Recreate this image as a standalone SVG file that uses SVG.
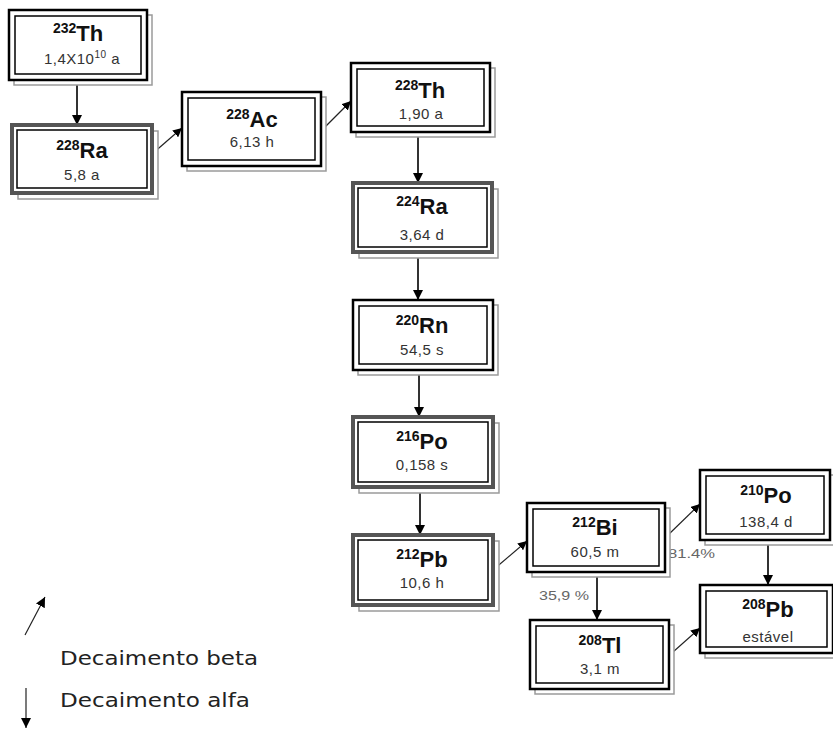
<svg xmlns="http://www.w3.org/2000/svg" width="833" height="731" viewBox="0 0 833 731">
<style>
  .shadow{fill:#fff;stroke:#9a9a9a;stroke-width:1.5}
  .outerA{fill:#fff;stroke:#000;stroke-width:2.5}
  .outerB{fill:#fff;stroke:#555;stroke-width:4}
  .inner{fill:none;stroke:#000;stroke-width:1.5}
  .sym{font-family:"Liberation Sans",Arial,sans-serif;font-weight:bold;fill:#111;text-anchor:middle}
  .sym .sup{font-size:14px}
  .sym .el{font-size:22px}
  .hl{font-family:"Liberation Sans",Arial,sans-serif;font-size:15px;fill:#333;text-anchor:middle;letter-spacing:0.5px}
  .pct{font-family:"Liberation Sans",Arial,sans-serif;font-size:13px;fill:#666}
  .leg{font-family:"DejaVu Sans","Comic Sans MS",sans-serif;font-size:20px;fill:#222}
  .a{stroke:#333;stroke-width:2;fill:none}
  .b{stroke:#222;stroke-width:1.2;fill:none}
</style>
<defs>
  <marker id="ah" viewBox="0 0 10 10" refX="10" refY="5" markerWidth="10" markerHeight="10" markerUnits="userSpaceOnUse" orient="auto">
    <path d="M0,0 L10,5 L0,10 z" fill="#000"/>
  </marker>
  <marker id="ahs" viewBox="0 0 10 10" refX="10" refY="5" markerWidth="9" markerHeight="9" markerUnits="userSpaceOnUse" orient="auto">
    <path d="M0,0 L10,5 L0,10 z" fill="#000"/>
  </marker>
</defs>

<g id="connectors">
  <line class="a" x1="77" y1="82" x2="77" y2="125" marker-end="url(#ah)"/>
  <line class="b" x1="152" y1="154" x2="182" y2="128" marker-end="url(#ahs)"/>
  <line class="b" x1="321" y1="131" x2="351" y2="101" marker-end="url(#ahs)"/>
  <line class="a" x1="418" y1="134" x2="418" y2="183" marker-end="url(#ah)"/>
  <line class="a" x1="418" y1="254" x2="418" y2="300" marker-end="url(#ah)"/>
  <line class="a" x1="419" y1="372" x2="419" y2="417" marker-end="url(#ah)"/>
  <line class="a" x1="420" y1="489" x2="420" y2="535" marker-end="url(#ah)"/>
  <line class="b" x1="493" y1="570" x2="527" y2="541" marker-end="url(#ahs)"/>
  <line class="b" x1="667" y1="536" x2="700" y2="504" marker-end="url(#ahs)"/>
  <line class="a" x1="597" y1="574" x2="597" y2="620" marker-end="url(#ah)"/>
  <line class="a" x1="768" y1="542" x2="768" y2="585" marker-end="url(#ah)"/>
  <line class="b" x1="673" y1="652" x2="700" y2="628" marker-end="url(#ahs)"/>
  <text class="pct" x="668" y="558" textLength="47" lengthAdjust="spacingAndGlyphs">81.4%</text>
  <text class="pct" x="539" y="600" textLength="50" lengthAdjust="spacingAndGlyphs">35,9 %</text>
</g>

<g id="th232">
  <rect class="shadow" x="14" y="15" width="138" height="70"/>
  <rect class="outerA" x="9" y="10" width="138" height="70"/>
  <rect class="inner" x="15" y="16" width="126" height="58"/>
  <text class="sym" x="78" y="41"><tspan class="sup" dy="-8">232</tspan><tspan class="el" dy="8">Th</tspan></text>
  <text class="hl" x="82" y="64">1,4X10<tspan font-size="10" dy="-6">10</tspan><tspan dy="6"> a</tspan></text>
</g>

<g id="ra228">
  <rect class="shadow" x="18" y="131" width="140" height="68"/>
  <rect class="outerB" x="12" y="125" width="140" height="68"/>
  <rect class="inner" x="17" y="130" width="130" height="58"/>
  <text class="sym" x="82" y="158"><tspan class="sup" dy="-8">228</tspan><tspan class="el" dy="8">Ra</tspan></text>
  <text class="hl" x="82" y="180">5,8 a</text>
</g>

<g id="ac228">
  <rect class="shadow" x="187" y="97" width="139" height="74"/>
  <rect class="outerA" x="182" y="92" width="139" height="74"/>
  <rect class="inner" x="188" y="98" width="127" height="62"/>
  <text class="sym" x="252" y="127"><tspan class="sup" dy="-8">228</tspan><tspan class="el" dy="8">Ac</tspan></text>
  <text class="hl" x="252" y="147">6,13 h</text>
</g>

<g id="th228">
  <rect class="shadow" x="356" y="68" width="139" height="69"/>
  <rect class="outerA" x="351" y="63" width="139" height="69"/>
  <rect class="inner" x="357" y="69" width="127" height="57"/>
  <text class="sym" x="420" y="98"><tspan class="sup" dy="-8">228</tspan><tspan class="el" dy="8">Th</tspan></text>
  <text class="hl" x="421" y="119">1,90 a</text>
</g>

<g id="ra224">
  <rect class="shadow" x="359" y="189" width="139" height="69"/>
  <rect class="outerB" x="353" y="183" width="139" height="69"/>
  <rect class="inner" x="358" y="188" width="129" height="59"/>
  <text class="sym" x="422" y="214"><tspan class="sup" dy="-8">224</tspan><tspan class="el" dy="8">Ra</tspan></text>
  <text class="hl" x="422" y="240">3,64 d</text>
</g>

<g id="rn220">
  <rect class="shadow" x="358" y="305" width="140" height="70"/>
  <rect class="outerA" x="353" y="300" width="140" height="70"/>
  <rect class="inner" x="359" y="306" width="128" height="58"/>
  <text class="sym" x="422" y="333"><tspan class="sup" dy="-8">220</tspan><tspan class="el" dy="8">Rn</tspan></text>
  <text class="hl" x="422" y="355">54,5 s</text>
</g>

<g id="po216">
  <rect class="shadow" x="359" y="423" width="140" height="70"/>
  <rect class="outerB" x="353" y="417" width="140" height="70"/>
  <rect class="inner" x="358" y="422" width="130" height="60"/>
  <text class="sym" x="422" y="449"><tspan class="sup" dy="-8">216</tspan><tspan class="el" dy="8">Po</tspan></text>
  <text class="hl" x="422" y="470">0,158 s</text>
</g>

<g id="pb212">
  <rect class="shadow" x="359" y="541" width="140" height="70"/>
  <rect class="outerB" x="353" y="535" width="140" height="70"/>
  <rect class="inner" x="358" y="540" width="130" height="60"/>
  <text class="sym" x="422" y="567"><tspan class="sup" dy="-8">212</tspan><tspan class="el" dy="8">Pb</tspan></text>
  <text class="hl" x="422" y="588">10,6 h</text>
</g>

<g id="bi212">
  <rect class="shadow" x="532" y="508" width="138" height="69"/>
  <rect class="outerA" x="527" y="503" width="138" height="69"/>
  <rect class="inner" x="533" y="509" width="126" height="57"/>
  <text class="sym" x="595" y="535"><tspan class="sup" dy="-8">212</tspan><tspan class="el" dy="8">Bi</tspan></text>
  <text class="hl" x="595" y="557">60,5 m</text>
</g>

<g id="po210">
  <rect class="shadow" x="705" y="475" width="130" height="70"/>
  <rect class="outerA" x="700" y="470" width="130" height="70"/>
  <rect class="inner" x="706" y="476" width="118" height="58"/>
  <text class="sym" x="766" y="503"><tspan class="sup" dy="-8">210</tspan><tspan class="el" dy="8">Po</tspan></text>
  <text class="hl" x="766" y="527">138,4 d</text>
</g>

<g id="pb208">
  <rect class="shadow" x="705" y="590" width="133" height="68"/>
  <rect class="outerA" x="700" y="585" width="133" height="68"/>
  <rect class="inner" x="706" y="591" width="121" height="56"/>
  <text class="sym" x="768" y="617"><tspan class="sup" dy="-8">208</tspan><tspan class="el" dy="8">Pb</tspan></text>
  <text class="hl" x="768" y="642">estável</text>
</g>

<g id="tl208">
  <rect class="shadow" x="535" y="625" width="139" height="69"/>
  <rect class="outerA" x="530" y="620" width="139" height="69"/>
  <rect class="inner" x="536" y="626" width="127" height="57"/>
  <text class="sym" x="600" y="653"><tspan class="sup" dy="-8">208</tspan><tspan class="el" dy="8">Tl</tspan></text>
  <text class="hl" x="600" y="674">3,1 m</text>
</g>

<g id="legend">
  <line class="b" x1="25" y1="635" x2="45" y2="597" marker-end="url(#ah)"/>
  <line class="b" x1="26" y1="688" x2="26" y2="728" marker-end="url(#ah)"/>
  <text class="leg" x="60" y="665" textLength="198" lengthAdjust="spacingAndGlyphs">Decaimento beta</text>
  <text class="leg" x="60" y="707" textLength="190" lengthAdjust="spacingAndGlyphs">Decaimento alfa</text>
</g>
</svg>
